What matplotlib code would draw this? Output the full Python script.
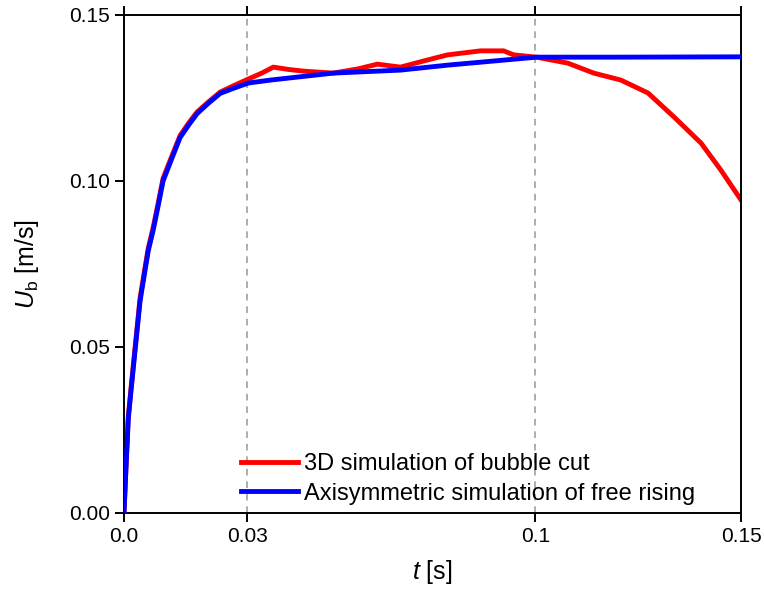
import numpy as np
import matplotlib
matplotlib.use('Agg')
import matplotlib.pyplot as plt

plt.rcParams.update({
    'font.family': 'Liberation Sans',
    'mathtext.fontset': 'custom',
    'mathtext.rm': 'Liberation Sans',
    'mathtext.it': 'Liberation Sans:italic',
    'font.size': 15,
})

# 3D simulation of bubble cut (red)
t_cut = [0.0, 0.0005, 0.00105, 0.0018, 0.00268, 0.0039, 0.0051, 0.0059, 0.00706,
         0.0083, 0.0095, 0.0115, 0.01364, 0.0158, 0.01778, 0.0205, 0.0234,
         0.0268, 0.0302, 0.0335, 0.0363, 0.0400, 0.0436, 0.0509, 0.0570, 0.0616,
         0.0672, 0.0730, 0.0787, 0.0867, 0.0923, 0.0947, 0.1003, 0.1079, 0.1142,
         0.1208, 0.1274, 0.1337, 0.1403, 0.1451, 0.15]
u_cut = [0.0, 0.0145, 0.0292, 0.0388, 0.0497, 0.0647, 0.0738, 0.0798, 0.0858,
         0.0933, 0.1008, 0.1071, 0.1137, 0.1176, 0.1208, 0.1238, 0.1268,
         0.1288, 0.1307, 0.1325, 0.1343, 0.1336, 0.1331, 0.1325, 0.1338, 0.1352,
         0.1343, 0.1362, 0.1380, 0.1392, 0.1392, 0.1380, 0.1373, 0.1355, 0.1325,
         0.1304, 0.1265, 0.1193, 0.1114, 0.1033, 0.0943]

# Axisymmetric simulation of free rising (blue)
t_free = [0.0, 0.0005, 0.00105, 0.0018, 0.00268, 0.0039, 0.0051, 0.0059, 0.00706,
          0.0083, 0.0095, 0.0115, 0.01364, 0.0158, 0.01778, 0.0205, 0.0234,
          0.0268, 0.0302, 0.0356, 0.0509, 0.0672, 0.0787, 0.1003, 0.1191, 0.15]
u_free = [0.0, 0.0140, 0.0285, 0.0380, 0.0488, 0.0638, 0.0730, 0.0790, 0.0850,
          0.0925, 0.1000, 0.1064, 0.1131, 0.1170, 0.1203, 0.1234, 0.1264,
          0.1280, 0.1295, 0.1304, 0.1325, 0.1334, 0.1349, 0.1373, 0.1373, 0.1374]

xticks = [0.0, 0.03, 0.1, 0.15]
xticklabels = ['0.0', '0.03', '0.1', '0.15']
yticks = [0.0, 0.05, 0.10, 0.15]
yticklabels = ['0.00', '0.05', '0.10', '0.15']
vlines = [0.03, 0.1]

fig = plt.figure(figsize=(7.64, 5.96), dpi=100)
ax = fig.add_axes([124/764, 1-513/596, 617/764, 498/596])

for v in vlines:
    ax.axvline(v, color='#a0a0a0', ls=(0, (4, 3.5)), lw=1.2, zorder=1)

ax.plot(t_cut, u_cut, color='#ff0000', lw=3.5, solid_joinstyle='round',
        label='3D simulation of bubble cut', zorder=2)
ax.plot(t_free, u_free, color='#0000ff', lw=3.5, solid_joinstyle='round',
        label='Axisymmetric simulation of free rising', zorder=3)

ax.set_xlim(0, 0.15)
ax.set_ylim(0, 0.15)
ax.set_xticks(xticks)
ax.set_xticklabels(xticklabels)
ax.set_yticks(yticks)
ax.set_yticklabels(yticklabels)
ax.tick_params(axis='both', direction='out', length=6.5, width=1.4, labelsize=15)
ax.tick_params(axis='x', top=True, labeltop=False)
for s in ax.spines.values():
    s.set_linewidth(1.4)

ax.set_xlabel('$t$ [s]', fontsize=18, labelpad=9)
ax.set_ylabel('$U_\\mathrm{b}$ [m/s]', fontsize=18, labelpad=20)

ax.legend(loc='upper left', bbox_to_anchor=((241 - 124) / 617, (513 - 453) / 498),
          frameon=False, fontsize=17, handlelength=2.4, handletextpad=0.25,
          labelspacing=0.32, borderpad=0, borderaxespad=0)

fig.savefig('out.png', dpi=100)
